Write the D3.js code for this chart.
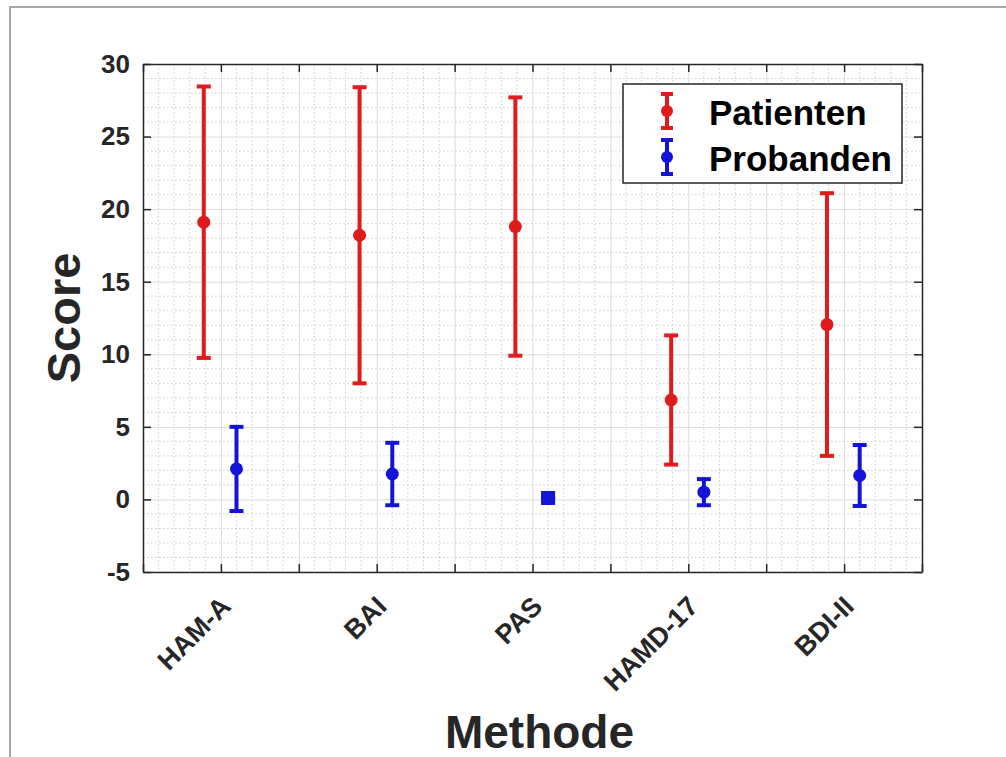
<!DOCTYPE html>
<html>
<head>
<meta charset="utf-8">
<script src="https://cdn.jsdelivr.net/npm/d3@7"></script>
<style>
  body { margin: 0; background: #fff; }
  svg { display: block; font-family: "Liberation Sans", Arial, sans-serif; font-weight: bold; }
</style>
</head>
<body>
<script>
// data
const methods = ['HAM-A', 'BAI', 'PAS', 'HAMD-17', 'BDI-II']
const seriesNames = ['Patienten', 'Probanden']
const patMean = [19.1, 18.2, 18.8, 6.85, 12.05]
const patErr = [9.35, 10.2, 8.9, 4.45, 9.05]
const probMean = [2.1, 1.75, 0.1, 0.5, 1.65]
const probErr = [2.9, 2.15, 0, 0.9, 2.1]
const yTicks = [-5, 0, 5, 10, 15, 20, 25, 30]

const W = 1006, H = 757
const margin = { left: 143, top: 64, right: 84, bottom: 185 }
const pw = W - margin.left - margin.right
const ph = H - margin.top - margin.bottom

const svg = d3.select('body').append('svg')
  .attr('width', W)
  .attr('height', H)

// figure frame (only left/top edge visible)
svg.append('path')
  .attr('d', `M10,${H} L10,7 L${W},7`)
  .attr('fill', 'none')
  .attr('stroke', '#a8a8a8')
  .attr('stroke-width', 2)

const g = svg.append('g').attr('transform', `translate(${margin.left},${margin.top})`)

const x = d3.scaleLinear().domain([0.5, 5.5]).range([0, pw])
const y = d3.scaleLinear().domain([-5, 30]).range([ph, 0])

const xMajor = d3.range(0.5, 5.51, 0.5)
const xMinor = d3.range(0.5, 5.51, 0.1).map(v => +v.toFixed(2)).filter(v => !xMajor.some(m => Math.abs(m - v) < 1e-6))
const yMinor = d3.range(-5, 30.01, 1).filter(v => v % 5 !== 0)

// minor grid (dotted)
g.append('g')
  .selectAll('line.vmin')
  .data(xMinor)
  .join('line')
  .attr('x1', d => x(d)).attr('x2', d => x(d))
  .attr('y1', 0).attr('y2', ph)
  .attr('stroke', '#cccccc')
  .attr('stroke-dasharray', '1.5,2.5')
g.append('g')
  .selectAll('line.hmin')
  .data(yMinor)
  .join('line')
  .attr('x1', 0).attr('x2', pw)
  .attr('y1', d => y(d)).attr('y2', d => y(d))
  .attr('stroke', '#cccccc')
  .attr('stroke-dasharray', '1.5,2.5')

// major grid
g.append('g')
  .call(d3.axisBottom(x).tickValues(xMajor).tickSize(ph).tickFormat(''))
  .call(a => a.select('.domain').remove())
  .selectAll('line').attr('stroke', '#dadada')
g.append('g')
  .call(d3.axisLeft(y).tickValues(yTicks).tickSize(-pw).tickFormat(''))
  .call(a => a.select('.domain').remove())
  .selectAll('line').attr('stroke', '#dadada')

// axes, ticks inside
function styleAxis(a) {
  a.select('.domain').attr('stroke', '#262626').attr('stroke-width', 1.5)
  a.selectAll('.tick line').attr('stroke', '#262626').attr('stroke-width', 1.5)
}

const xAxis = g.append('g')
  .attr('transform', `translate(0,${ph})`)
  .call(d3.axisBottom(x).tickValues(xMajor).tickSizeInner(-8).tickSizeOuter(0)
    .tickFormat(d => Number.isInteger(d) ? methods[d - 1] : ''))
  .call(styleAxis)
xAxis.selectAll('text')
  .attr('font-size', 27)
  .attr('font-family', '"Liberation Sans", Arial, sans-serif')
  .attr('font-weight', 'bold')
  .attr('fill', '#262626')
  .attr('text-anchor', 'end')
  .attr('dy', 0)
  .attr('y', 0)
  .attr('transform', 'translate(11,36) rotate(-45)')

g.append('g')
  .call(d3.axisTop(x).tickValues(xMajor).tickSizeInner(-8).tickSizeOuter(0).tickFormat(''))
  .call(styleAxis)

const yAxis = g.append('g')
  .call(d3.axisLeft(y).tickValues(yTicks).tickSizeInner(-8).tickSizeOuter(0).tickPadding(13)
    .tickFormat(d => String(d)))
  .call(styleAxis)
yAxis.selectAll('text')
  .attr('font-size', 26)
  .attr('font-family', '"Liberation Sans", Arial, sans-serif')
  .attr('font-weight', 'bold')
  .attr('fill', '#262626')

g.append('g')
  .attr('transform', `translate(${pw},0)`)
  .call(d3.axisRight(y).tickValues(yTicks).tickSizeInner(-8).tickSizeOuter(0).tickFormat(''))
  .call(styleAxis)

// error bars
const series = [
  { name: seriesNames[0], mean: patMean, err: patErr, color: '#e01b1b', off: -0.11 },
  { name: seriesNames[1], mean: probMean, err: probErr, color: '#1414d8', off: 0.1 }
]

const capW = 7
series.forEach(s => {
  const rows = methods.map((m, i) => ({ xi: i + 1 + s.off, m: s.mean[i], e: s.err[i] }))
  const sg = g.append('g')
  sg.selectAll('line.v').data(rows).join('line')
    .attr('x1', d => x(d.xi)).attr('x2', d => x(d.xi))
    .attr('y1', d => y(d.m - d.e)).attr('y2', d => y(d.m + d.e))
    .attr('stroke', s.color).attr('stroke-width', 4)
  sg.selectAll('line.top').data(rows).join('line')
    .attr('x1', d => x(d.xi) - capW).attr('x2', d => x(d.xi) + capW)
    .attr('y1', d => y(d.m + d.e)).attr('y2', d => y(d.m + d.e))
    .attr('stroke', s.color).attr('stroke-width', 4)
  sg.selectAll('line.bot').data(rows).join('line')
    .attr('x1', d => x(d.xi) - capW).attr('x2', d => x(d.xi) + capW)
    .attr('y1', d => y(d.m - d.e)).attr('y2', d => y(d.m - d.e))
    .attr('stroke', s.color).attr('stroke-width', 4)
  // zero-length bars show up as a filled square in the original
  sg.selectAll('rect.zero').data(rows.filter(d => d.e === 0)).join('rect')
    .attr('x', d => x(d.xi) - 7).attr('y', d => y(d.m) - 7)
    .attr('width', 14).attr('height', 14)
    .attr('fill', s.color)
  sg.selectAll('circle').data(rows).join('circle')
    .attr('cx', d => x(d.xi)).attr('cy', d => y(d.m))
    .attr('r', 6.5)
    .attr('fill', s.color)
})

// legend
const lg = svg.append('g').attr('transform', 'translate(623,84)')
lg.append('rect')
  .attr('width', 279).attr('height', 99)
  .attr('fill', '#fff')
  .attr('stroke', '#262626').attr('stroke-width', 1.5)
series.forEach((s, i) => {
  const cy = 27 + i * 46
  const row = lg.append('g').attr('transform', `translate(44,${cy})`)
  row.append('line').attr('y1', -17).attr('y2', 17).attr('stroke', s.color).attr('stroke-width', 4)
  row.append('line').attr('x1', -6).attr('x2', 6).attr('y1', -17).attr('y2', -17).attr('stroke', s.color).attr('stroke-width', 4)
  row.append('line').attr('x1', -6).attr('x2', 6).attr('y1', 17).attr('y2', 17).attr('stroke', s.color).attr('stroke-width', 4)
  row.append('circle').attr('r', 6).attr('fill', s.color)
  row.append('text')
    .attr('x', 42).attr('y', 14)
    .attr('font-size', 35)
    .attr('fill', '#000')
    .text(s.name)
})

// axis titles
svg.append('text')
  .attr('transform', `translate(80,${margin.top + ph / 2}) rotate(-90)`)
  .attr('text-anchor', 'middle')
  .attr('font-size', 47)
  .attr('fill', '#262626')
  .text('Score')

svg.append('text')
  .attr('x', margin.left + pw / 2 + 7)
  .attr('y', 748)
  .attr('text-anchor', 'middle')
  .attr('font-size', 46)
  .attr('fill', '#262626')
  .text('Methode')
</script>
</body>
</html>
